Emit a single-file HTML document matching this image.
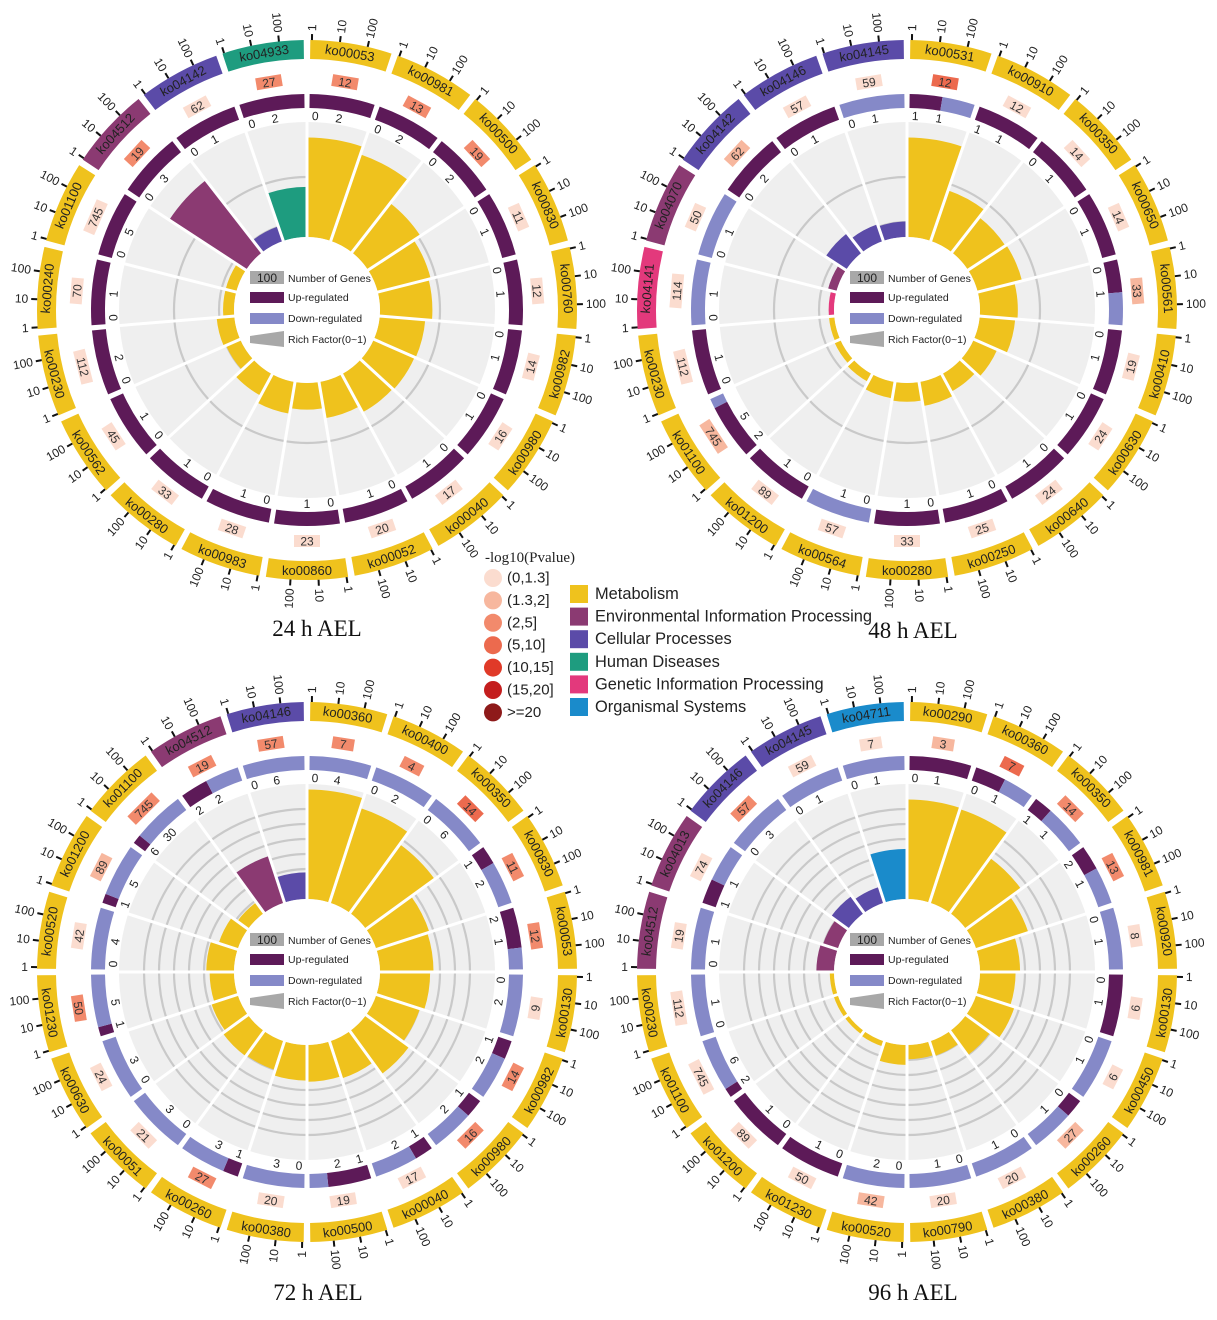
<!DOCTYPE html>
<html><head><meta charset="utf-8"><title>KEGG circos</title>
<style>
html,body{margin:0;padding:0;background:#fff;}
svg{display:block;font-family:"Liberation Sans",sans-serif;}
</style></head>
<body>
<svg id="root" width="1217" height="1320" viewBox="0 0 1217 1320" xmlns="http://www.w3.org/2000/svg">
<g id="charts"></g>
<g id="legend">
<text x="485" y="562" font-family="Liberation Serif, serif" font-size="15" fill="#222">-log10(Pvalue)</text>
</g>
<g id="catlegend"></g>
<text x="317" y="636" text-anchor="middle" font-family="Liberation Serif, serif" font-size="23" fill="#111">24 h AEL</text>
<text x="913" y="638" text-anchor="middle" font-family="Liberation Serif, serif" font-size="23" fill="#111">48 h AEL</text>
<text x="318" y="1300" text-anchor="middle" font-family="Liberation Serif, serif" font-size="23" fill="#111">72 h AEL</text>
<text x="913" y="1300" text-anchor="middle" font-family="Liberation Serif, serif" font-size="23" fill="#111">96 h AEL</text>
</svg>
<script>
// ---------- data ----------
const catNames = ['Metabolism','Environmental Information Processing','Cellular Processes','Human Diseases','Genetic Information Processing','Organismal Systems'];
const pLabels = ['(0,1.3]','(1.3,2]','(2,5]','(5,10]','(10,15]','(15,20]','>=20'];

const ids1 = ['ko00053','ko00981','ko00500','ko00830','ko00760','ko00982','ko00980','ko00040','ko00052','ko00860','ko00983','ko00280','ko00562','ko00230','ko00240','ko01100','ko04512','ko04142','ko04933'];
const cats1 = [0,0,0,0,0,0,0,0,0,0,0,0,0,0,0,0,1,2,3];
const genes1 = [12,13,19,11,12,14,16,17,20,23,28,33,45,112,70,745,19,62,27];
const plev1 = [2,2,2,0,0,0,0,0,0,0,0,0,0,0,0,0,2,0,2];
const up1 = [1,1,1,1,1,1,1,1,1,1,1,1,1,1,1,1,1,1,1];
const rich1 = [0.87,0.80,0.54,0.47,0.45,0.39,0.38,0.37,0.31,0.22,0.27,0.20,0.12,0.14,0.08,0.08,0.80,0.12,0.43];
const labA1 = [0,0,0,0,0,0,0,0,0,0,0,0,0,0,0,0,0,0,0];
const labB1 = [2,2,2,1,1,1,1,1,1,1,1,1,1,2,1,5,3,1,2];

const ids2 = ['ko00531','ko00910','ko00350','ko00650','ko00561','ko00410','ko00630','ko00640','ko00250','ko00280','ko00564','ko01200','ko01100','ko00230','ko04141','ko04070','ko04142','ko04146','ko04145'];
const cats2 = [0,0,0,0,0,0,0,0,0,0,0,0,0,0,4,1,2,2,2];
const genes2 = [12,12,14,14,33,19,24,24,25,33,57,89,745,112,114,50,62,57,59];
const plev2 = [3,0,0,0,1,0,0,0,0,0,0,0,1,0,0,0,1,0,0];
const up2 = [0.5,1,1,1,0.5,1,1,1,1,1,0,1,0.85,1,0,0,1,1,0];
const rich2 = [0.87,0.46,0.38,0.39,0.32,0.30,0.21,0.16,0.20,0.15,0.13,0.06,0.04,0.03,0.03,0.06,0.20,0.14,0.12];
const labA2 = [1,1,0,0,0,0,0,0,0,0,0,0,2,0,0,0,0,0,0];
const labB2 = [1,1,1,1,1,1,1,1,1,1,1,1,5,1,1,1,2,1,1];

const ids3 = ['ko00360','ko00400','ko00350','ko00830','ko00053','ko00130','ko00982','ko00980','ko00040','ko00500','ko00380','ko00260','ko00051','ko00630','ko01230','ko00520','ko01200','ko01100','ko04512','ko04146'];
const cats3 = [0,0,0,0,0,0,0,0,0,0,0,0,0,0,0,0,0,0,1,2];
const genes3 = [7,4,14,11,12,9,14,16,17,19,20,27,21,24,50,42,89,745,19,57];
const plev3 = [2,2,3,2,2,0,2,2,0,0,0,2,0,0,2,0,1,2,2,2];
const up3 = [0,0,0,0.3,0.65,0,0.3,0.3,0.3,0.7,0,0.25,0,0,0.15,0,0.15,0.15,0.45,0];
const rich3 = [0.96,0.87,0.74,0.48,0.46,0.43,0.39,0.46,0.33,0.31,0.30,0.25,0.26,0.23,0.20,0.23,0.16,0.10,0.42,0.22];
const labA3 = [0,0,0,1,2,0,1,1,1,1,0,1,0,0,1,0,1,6,2,0];
const labB3 = [4,2,6,2,1,2,2,2,2,2,3,3,3,3,5,4,5,30,2,6];

const ids4 = ['ko00290','ko00360','ko00350','ko00981','ko00920','ko00130','ko00450','ko00260','ko00380','ko00790','ko00520','ko01230','ko01200','ko01100','ko00230','ko04512','ko04013','ko04146','ko04145','ko04711'];
const cats4 = [0,0,0,0,0,0,0,0,0,0,0,0,0,0,0,1,1,2,2,5];
const genes4 = [3,7,14,13,8,6,6,27,20,20,42,50,89,745,112,19,74,57,59,7];
const plev4 = [1,3,2,2,0,0,0,1,0,0,1,0,0,0,0,0,0,2,0,0];
const up4 = [1,0.5,0.3,0.4,0,1,0,0.3,0,0,0,1,1,0.15,0,0,0.4,0,0,0];
const rich4 = [0.87,0.86,0.59,0.47,0.34,0.30,0.34,0.25,0.12,0.11,0.16,0.03,0.02,0.02,0.02,0.14,0.12,0.17,0.13,0.43];
const labA4 = [0,0,1,2,0,0,0,0,0,0,0,0,0,2,0,0,1,0,0,0];
const labB4 = [1,1,1,1,1,1,1,1,1,1,2,1,1,6,1,1,1,3,1,1];

const grid1 = [88,133];
const grid2 = [88,133];
const grid3 = [88,103,118,133,148,163];
const grid4 = [88,103,118,133,148,163];

// ---------- styles ----------
const catColors = ['#EFC21D','#8B3A72','#5B4BA8','#1E9C7F','#E3397C','#1A8BCB'];
const pColors = ['#FBDCCF','#F7B79E','#F28A6C','#EC6A4E','#E03A28','#C41E1E','#8E1A1A'];
const UP = '#5D1A58', DOWN = '#8589C8';
const NS = 'http://www.w3.org/2000/svg';
const root = document.getElementById('charts');

function mk(tag, attrs, parent){
  const e = document.createElementNS(NS, tag);
  for (const k in attrs) e.setAttribute(k, attrs[k]);
  (parent||root).appendChild(e);
  return e;
}
function pt(cx,cy,r,a){const t=a*Math.PI/180;return [cx+r*Math.sin(t), cy-r*Math.cos(t)];}
function annulus(cx,cy,r0,r1,a0,a1){
  const large = (a1-a0)>180?1:0;
  const p1=pt(cx,cy,r1,a0),p2=pt(cx,cy,r1,a1),p3=pt(cx,cy,r0,a1),p4=pt(cx,cy,r0,a0);
  return `M${p1[0]},${p1[1]} A${r1},${r1} 0 ${large} 1 ${p2[0]},${p2[1]} L${p3[0]},${p3[1]} A${r0},${r0} 0 ${large} 0 ${p4[0]},${p4[1]} Z`;
}
function tangRot(a){ return (a>90 && a<270) ? a-180 : a; }
function rScale(v){ return 75 + v*112; }

function drawChart(key, cx, cy, ids, cats, genes, plev, up, rich, labA, labB, grid){
  const g = mk('g', {});
  
  
  const N = ids.length, w = 360/N;
  const bg = mk('circle', {cx:cx, cy:cy, r:188, fill:'#EFEFEF'}, g);
  
  
  for (const gr of grid){
    const c = mk('circle', {cx:cx, cy:cy, r:gr, fill:'none', stroke:'#C9C9C9', 'stroke-width':2.2}, g);
    
    
  }
  for (let i=0;i<N;i++){
    const a0 = i*w, a1 = (i+1)*w;
    const bar = mk('path', {d:annulus(cx,cy,73,rScale(rich[i]),a0,a1), fill:catColors[cats[i]]}, g);
    
    
  }
  for (let i=0;i<N;i++){
    const a0 = i*w;
    const p1 = pt(cx,cy,72,a0), p2 = pt(cx,cy,190,a0);
    const ln = mk('line', {x1:p1[0],y1:p1[1],x2:p2[0],y2:p2[1],stroke:'#fff','stroke-width':3}, g);
    
    
  }
  const inner = mk('circle', {cx:cx, cy:cy, r:73, fill:'#fff'}, g);
  
  
  for (let i=0;i<N;i++){
    const a0 = i*w, a1 = (i+1)*w, am = (a0+a1)/2;
    const gap = 0.7;
    const s0 = a0+gap, s1 = a1-gap, span = s1-s0;
    if (up[i] > 0){
      const u = mk('path', {d:annulus(cx,cy,202,216,s0,s0+span*up[i]), fill:UP}, g);
      
      
    }
    if (up[i] < 1){
      const dn = mk('path', {d:annulus(cx,cy,202,216,s0+span*up[i],s1), fill:DOWN}, g);
      
      
    }
    const la = pt(cx,cy,194,s0+span*0.1);
    const ta = mk('text', {x:la[0], y:la[1], 'font-size':12, fill:'#222', 'text-anchor':'middle', 'dominant-baseline':'central', transform:`rotate(${tangRot(s0+span*0.1)} ${la[0]} ${la[1]})`}, g);
    ta.textContent = labA[i];
    
    
    const lb = pt(cx,cy,194,s0+span*0.5);
    const tb = mk('text', {x:lb[0], y:lb[1], 'font-size':12, fill:'#222', 'text-anchor':'middle', 'dominant-baseline':'central', transform:`rotate(${tangRot(s0+span*0.5)} ${lb[0]} ${lb[1]})`}, g);
    tb.textContent = labB[i];
    
    
    const pc = pt(cx,cy,231,am);
    const txt = String(genes[i]);
    const bw = Math.max(22, txt.length*8+10);
    const pg = mk('g', {transform:`translate(${pc[0]} ${pc[1]}) rotate(${tangRot(am)})`}, g);
    
    
    const pr = mk('rect', {x:-bw/2, y:-6, width:bw, height:12, fill:pColors[plev[i]]}, pg);
    
    
    const pt2 = mk('text', {x:0, y:0.5, 'font-size':12, fill:'#333', 'text-anchor':'middle', 'dominant-baseline':'central'}, pg);
    pt2.textContent = txt;
    
    
    const ob = mk('path', {d:annulus(cx,cy,251,270,s0,s1), fill:catColors[cats[i]]}, g);
    
    
    const oc = pt(cx,cy,260.5,am);
    const ot = mk('text', {x:oc[0], y:oc[1], 'font-size':13, fill:'#222', 'text-anchor':'middle', 'dominant-baseline':'central', transform:`rotate(${tangRot(am)} ${oc[0]} ${oc[1]})`}, g);
    ot.textContent = ids[i];
    
    
    const tl = ['1','10','100'];
    for (let k=0;k<3;k++){
      const ta2 = s0 + span*(k*0.34+0.02);
      const q1 = pt(cx,cy,270,ta2), q2 = pt(cx,cy,276,ta2);
      const tk = mk('line', {x1:q1[0],y1:q1[1],x2:q2[0],y2:q2[1],stroke:'#111','stroke-width':2}, g);
      
      
      const q3 = pt(cx,cy,279,ta2);
      const right = ta2 <= 180;
      const tt = mk('text', {x:q3[0], y:q3[1], 'font-size':12, fill:'#222', 'text-anchor': right?'start':'end', 'dominant-baseline':'central', transform:`rotate(${right? ta2-90 : ta2+90} ${q3[0]} ${q3[1]})`}, g);
      tt.textContent = tl[k];
      
      
    }
  }
  const lg = mk('g', {transform:`translate(${cx} ${cy})`}, g);
  
  
  const r1 = mk('rect', {x:-57, y:-39, width:34, height:13, fill:'#A8A8A8'}, lg);
  
  
  const t0 = mk('text', {x:-40, y:-32, 'font-size':12, fill:'#222', 'text-anchor':'middle', 'dominant-baseline':'central'}, lg);
  t0.textContent = '100';
  
  
  const r2 = mk('rect', {x:-57, y:-18, width:34, height:11, fill:UP}, lg);
  
  
  const r3 = mk('rect', {x:-57, y:3, width:34, height:11, fill:DOWN}, lg);
  
  
  const r4 = mk('path', {d:'M-57,26 L-23,21 L-23,37 L-57,33 Z', fill:'#A8A8A8'}, lg);
  
  
  const lt = ['Number of Genes','Up-regulated','Down-regulated','Rich Factor(0~1)'];
  const ly = [-31,-12,9,30];
  for (let k=0;k<4;k++){
    const t = mk('text', {x:-19, y:ly[k], 'font-size':10.5, fill:'#222', 'dominant-baseline':'central'}, lg);
    t.textContent = lt[k];
    
    
  }
}

drawChart('24h', 307, 310, ids1, cats1, genes1, plev1, up1, rich1, labA1, labB1, grid1);
drawChart('48h', 907, 310, ids2, cats2, genes2, plev2, up2, rich2, labA2, labB2, grid2);
drawChart('72h', 307, 972, ids3, cats3, genes3, plev3, up3, rich3, labA3, labB3, grid3);
drawChart('96h', 907, 972, ids4, cats4, genes4, plev4, up4, rich4, labA4, labB4, grid4);

const leg = document.getElementById('legend');
for (let k=0;k<pLabels.length;k++){
  const y = 578 + k*22.4;
  const c = mk('circle', {cx:493, cy:y, r:9, fill:pColors[k]}, leg);
  
  
  const t = mk('text', {x:507, y:y, 'font-size':15, fill:'#222', 'dominant-baseline':'central'}, leg);
  t.textContent = pLabels[k];
  
  
}
const cl = document.getElementById('catlegend');
for (let k=0;k<catNames.length;k++){
  const y = 594 + k*22.6;
  const r = mk('rect', {x:570, y:y-9, width:18, height:18, fill:catColors[k]}, cl);
  
  
  const t = mk('text', {x:595, y:y, 'font-size':16.4, fill:'#222', 'dominant-baseline':'central'}, cl);
  t.textContent = catNames[k];
  
  
}
</script>
</body></html>
